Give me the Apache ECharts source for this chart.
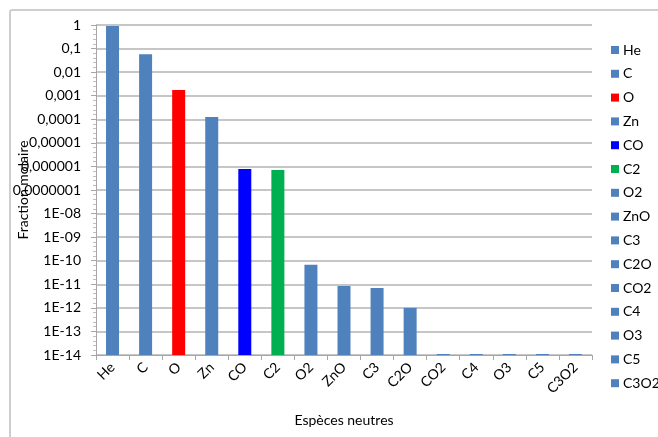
<!DOCTYPE html>
<html><head><meta charset="utf-8">
<script src="https://cdn.jsdelivr.net/npm/echarts@6/dist/echarts.min.js"></script>
<style>html,body{margin:0;padding:0;background:#fff}#c{width:658px;height:437px}</style>
</head><body><div id="c"></div>
<script>
const categories = ['He','C','O','Zn','CO','C2','O2','ZnO','C3','C2O','CO2','C4','O3','C5','C3O2'];
const values = [0.9, 0.057, 0.00175, 0.000126, 7.8e-7, 7.1e-7, 6.8e-11, 8.5e-12, 6.9e-12, 1.0e-12, 1.1e-14, 1.1e-14, 1.1e-14, 1.1e-14, 1.1e-14];
const barColors = ['#4F81BD','#4F81BD','#FF0000','#4F81BD','#0000FF','#00B050','#4F81BD','#4F81BD','#4F81BD','#4F81BD','#4F81BD','#4F81BD','#4F81BD','#4F81BD','#4F81BD'];
const yTickLabels = {0:'1',1:'0,1',2:'0,01',3:'0,001',4:'0,0001',5:'0,00001',6:'0,000001',7:'0,0000001',8:'1E-08',9:'1E-09',10:'1E-10',11:'1E-11',12:'1E-12',13:'1E-13',14:'1E-14'};
const yAxisMinValue = 1e-14;
const yAxisMaxValue = 1;
const xTitle = 'Espèces neutres';
const yTitle = 'Fraction molaire';

const font = 'Lato, "Open Sans", sans-serif';
// log scale: decades above the axis floor (1E-14), so bars grow from the bottom
const decMin = Math.log10(yAxisMinValue);
const decSpan = Math.log10(yAxisMaxValue) - decMin;
const series = categories.map((name, i) => ({
  name: name,
  type: 'bar',
  barWidth: 13,
  barGap: '-100%',
  itemStyle: { color: barColors[i] },
  data: categories.map((c, j) => j === i ? Math.log10(values[i]) - decMin : '-')
}));

const chart = echarts.init(document.getElementById('c'), null, {renderer: 'canvas'});
chart.setOption({
  animation: false,
  backgroundColor: '#fff',
  graphic: [{
    type: 'rect', silent: true, z: -10,
    shape: { x: 10, y: 10, width: 700, height: 500, r: 2 },
    style: { fill: 'none', stroke: '#BFBFBF', lineWidth: 1.5 }
  }],
  grid: { left: 96, right: 66, top: 25, bottom: 82, containLabel: false, outerBoundsMode: 'none' },
  legend: {
    orient: 'vertical', left: 606, top: 38,
    itemWidth: 8, itemHeight: 8, itemGap: 9.8,
    icon: 'rect',
    textStyle: { fontFamily: font, fontSize: 14, color: '#000', padding: [0,0,0,-1] },
    data: categories
  },
  xAxis: {
    type: 'category', data: categories,
    boundaryGap: true,
    name: xTitle, nameLocation: 'middle', nameGap: 58,
    nameTextStyle: { fontFamily: font, fontSize: 14, color: '#000' },
    axisLine: { lineStyle: { color: '#A6A6A6', width: 1 } },
    axisTick: { show: true, alignWithLabel: false, length: 5, lineStyle: { color: '#A6A6A6' } },
    axisLabel: { rotate: 45, fontFamily: font, fontSize: 14, color: '#000', margin: 10, interval: 0 }
  },
  yAxis: {
    type: 'value', min: 0, max: decSpan, interval: 1,
    name: yTitle, nameLocation: 'middle', nameGap: 66, nameMoveOverlap: false,
    nameTextStyle: { fontFamily: font, fontSize: 14, color: '#000' },
    axisLine: { show: true, lineStyle: { color: '#A6A6A6' } },
    axisTick: { show: true, length: 5, lineStyle: { color: '#A6A6A6' } },
    minorTick: { show: true, splitNumber: 5, length: 3, lineStyle: { color: '#BFBFBF' } },
    splitLine: { show: true, lineStyle: { color: '#B3B3B3', width: 1.5 } },
    axisLabel: {
      fontFamily: font, fontSize: 14, color: '#000', margin: 15,
      formatter: function (v) {
        const e = Math.round(-(v + decMin));
        return yTickLabels[e] !== undefined ? yTickLabels[e] : '';
      }
    }
  },
  series: series
});
</script></body></html>
